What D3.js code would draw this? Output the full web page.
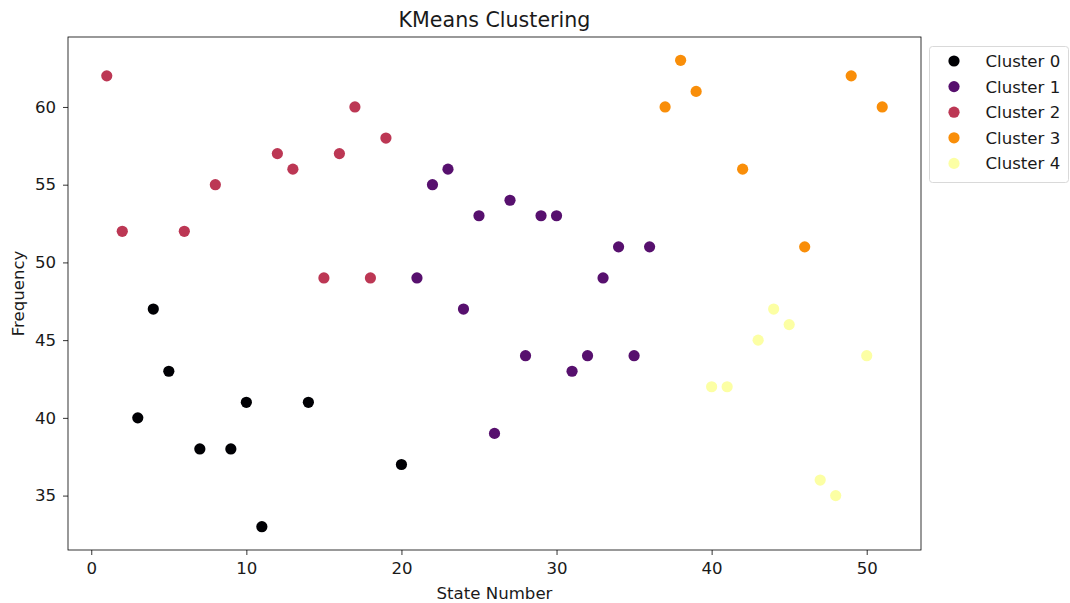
<!DOCTYPE html>
<html>
<head>
<meta charset="utf-8">
<script src="https://cdn.jsdelivr.net/npm/d3@7"></script>
<style>
  body { margin: 0; background: #fff; }
  svg { font-family: "DejaVu Sans", sans-serif; fill: #1a1a1a; }
</style>
</head>
<body>
<svg id="chart" width="1070" height="603"></svg>
<script>
// Data, one array per cluster: [state number, frequency]
var cluster0 = [[3, 40], [4, 47], [5, 43], [7, 38], [9, 38], [10, 41], [11, 33], [14, 41], [20, 37]]
var cluster1 = [[21, 49], [22, 55], [23, 56], [24, 47], [25, 53], [26, 39], [27, 54], [28, 44],
                [29, 53], [30, 53], [31, 43], [32, 44], [33, 49], [34, 51], [35, 44], [36, 51]]
var cluster2 = [[1, 62], [2, 52], [6, 52], [8, 55], [12, 57], [13, 56], [15, 49], [16, 57],
                [17, 60], [18, 49], [19, 58]]
var cluster3 = [[37, 60], [38, 63], [39, 61], [42, 56], [46, 51], [49, 62], [51, 60]]
var cluster4 = [[40, 42], [41, 42], [43, 45], [44, 47], [45, 46], [47, 36], [48, 35], [50, 44]]

var clusterNames = ["Cluster 0", "Cluster 1", "Cluster 2", "Cluster 3", "Cluster 4"]
var clusters = [cluster0, cluster1, cluster2, cluster3, cluster4]
var xTicks = [0, 10, 20, 30, 40, 50]
var yTicks = [35, 40, 45, 50, 55, 60]

// Colors (inferno at 0, .25, .5, .75, 1)
var colors = ["#000004", "#57106e", "#bc3754", "#f98e09", "#fcffa4"]
var textColor = "#1a1a1a"
var fontSize = "16.6px"

var svg = d3.select("#chart")
var margin = {left: 68, right: 921, top: 37, bottom: 550}

var x = d3.scaleLinear().domain([-1.5, 53.5]).range([margin.left, margin.right])
var y = d3.scaleLinear().domain([31.5, 64.5]).range([margin.bottom, margin.top])

// points
clusters.forEach(function(pts, i) {
    svg.append("g")
        .selectAll("circle")
        .data(pts)
        .enter().append("circle")
        .attr("cx", d => x(d[0]))
        .attr("cy", d => y(d[1]))
        .attr("r", 5.6)
        .style("fill", colors[i])
})

// axes
var xAxis = svg.append("g")
    .attr("transform", "translate(0," + margin.bottom + ")")
    .call(d3.axisBottom(x).tickValues(xTicks).tickSize(5).tickPadding(7.5))
var yAxis = svg.append("g")
    .attr("transform", "translate(" + margin.left + ",0)")
    .call(d3.axisLeft(y).tickValues(yTicks).tickSize(5).tickPadding(7))

;[xAxis, yAxis].forEach(function(a) {
    a.select(".domain").remove()
    a.selectAll("text").style("font-size", fontSize).style("fill", textColor)
        .style("font-family", "DejaVu Sans")
    a.selectAll("line").style("stroke", "#000").style("stroke-width", 0.8)
})

// frame
svg.append("rect")
    .attr("x", margin.left)
    .attr("y", margin.top)
    .attr("width", margin.right - margin.left)
    .attr("height", margin.bottom - margin.top)
    .style("fill", "none")
    .style("stroke", "#000")
    .style("stroke-width", 0.8)

// labels
svg.append("text")
    .attr("x", (margin.left + margin.right) / 2)
    .attr("y", 27)
    .attr("text-anchor", "middle")
    .style("font-size", "20.6px")
    .text("KMeans Clustering")

svg.append("text")
    .attr("x", (margin.left + margin.right) / 2)
    .attr("y", 599)
    .attr("text-anchor", "middle")
    .style("font-size", fontSize)
    .text("State Number")

svg.append("text")
    .attr("transform", "translate(23.5," + ((margin.top + margin.bottom) / 2) + ") rotate(-90)")
    .attr("text-anchor", "middle")
    .style("font-size", fontSize)
    .text("Frequency")

// legend
var legend = svg.append("g").attr("transform", "translate(929.5,46.5)")
legend.append("rect")
    .attr("width", 139)
    .attr("height", 136)
    .attr("rx", 3)
    .style("fill", "#fff")
    .style("stroke", "#d9d9d9")
    .style("stroke-width", 1)

clusterNames.forEach(function(name, i) {
    var row = legend.append("g").attr("transform", "translate(0," + (14.5 + i * 25.6) + ")")
    row.append("circle")
        .attr("cx", 24.5)
        .attr("cy", 0)
        .attr("r", 5.6)
        .style("fill", colors[i])
    row.append("text")
        .attr("x", 56)
        .attr("y", 6)
        .style("font-size", fontSize)
        .text(name)
})
</script>
</body>
</html>
